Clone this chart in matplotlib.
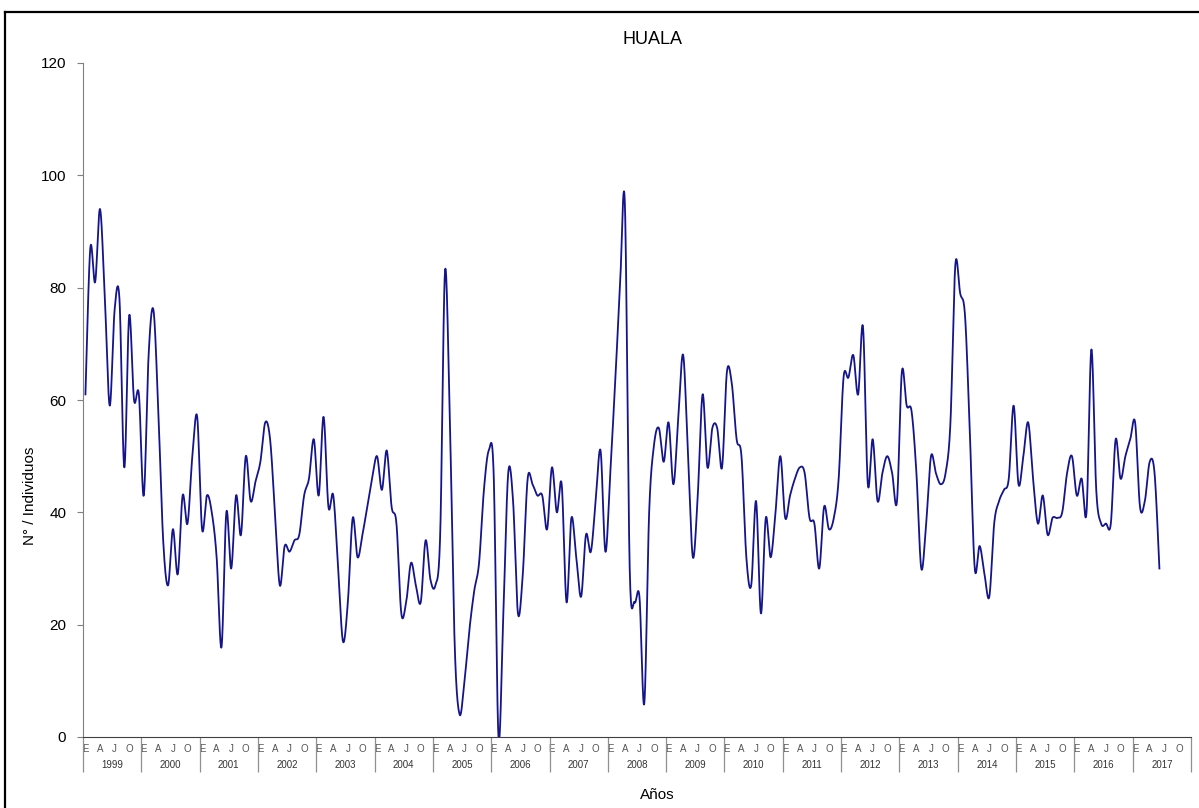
import matplotlib
matplotlib.use("Agg")
import matplotlib.pyplot as plt
import numpy as np
from matplotlib.lines import Line2D
from matplotlib.transforms import blended_transform_factory

plt.rcParams["font.family"] = ["Liberation Sans", "DejaVu Sans"]

# monthly counts, Jan 1999 .. Jun 2017
values = [
    61, 87, 81, 94, 78, 59, 76, 78, 48, 75, 60, 61,          # 1999
    43, 68, 76, 58, 35, 27, 37, 29, 43, 38, 50, 57,          # 2000
    37, 43, 40, 32, 16, 40, 30, 43, 36, 50, 42, 45.5,        # 2001
    49, 56, 53, 40, 27, 34, 33, 35, 36, 43, 46, 53,          # 2002
    43, 57, 41, 43, 30, 17, 24, 39, 32, 36, 41, 46,          # 2003
    50, 44, 51, 41, 38, 22, 24, 31, 27, 24, 35, 28,          # 2004
    27, 36, 83, 56, 16, 4, 10, 19, 26, 31, 44, 51,           # 2005
    47, 0, 22, 47, 42, 22, 29, 46, 45, 43, 43, 37,           # 2006
    48, 40, 45, 24, 39, 32, 25, 36, 33, 42, 51, 33,          # 2007
    47, 63, 80, 95, 30, 24, 25, 6, 40, 52, 55, 49,           # 2008
    56, 45, 57, 68, 50, 32, 43, 61, 48, 55, 55, 48,          # 2009
    65, 63, 53, 50, 32, 27, 42, 22, 39, 32, 40, 50,          # 2010
    39, 43, 46, 48, 47, 39, 38, 30, 41, 37, 39, 46,          # 2011
    64, 64, 68, 61, 73, 45, 53, 42, 47, 50, 47, 42,          # 2012
    65, 59, 58, 47, 30, 38, 50, 47, 45, 47, 56, 84,          # 2013
    79, 75, 54, 30, 34, 29, 25, 38, 42, 44, 46, 59,          # 2014
    45, 50, 56, 46, 38, 43, 36, 39, 39, 40, 47, 50,          # 2015
    43, 46, 40, 69, 44, 38, 38, 38, 53, 46, 50, 53,          # 2016
    56, 41, 42, 49, 47, 30,                                  # 2017
]
years = list(range(1999, 2018))
month_labels = ["E", "A", "J", "O"]
y_ticks = [0, 20, 40, 60, 80, 100, 120]


def smooth(y, n=24):
    """Catmull-Rom style smoothing like Excel's smoothed line."""
    y = np.asarray(y, dtype=float)
    x = np.arange(len(y), dtype=float)
    yp = np.concatenate([[y[0]], y, [y[-1]]])
    xp = np.concatenate([[x[0]], x, [x[-1]]])
    t = np.linspace(0, 1, n, endpoint=False)
    xs, ys = [], []
    for i in range(len(y) - 1):
        p0x, p1x, p2x, p3x = xp[i], xp[i + 1], xp[i + 2], xp[i + 3]
        p0y, p1y, p2y, p3y = yp[i], yp[i + 1], yp[i + 2], yp[i + 3]
        c1x, c1y = p1x + (p2x - p0x) / 6, p1y + (p2y - p0y) / 6
        c2x, c2y = p2x - (p3x - p1x) / 6, p2y - (p3y - p1y) / 6
        b0, b1, b2, b3 = (1 - t) ** 3, 3 * t * (1 - t) ** 2, 3 * t ** 2 * (1 - t), t ** 3
        xs.append(b0 * p1x + b1 * c1x + b2 * c2x + b3 * p2x)
        ys.append(b0 * p1y + b1 * c1y + b2 * c2y + b3 * p2y)
    xs.append([x[-1]])
    ys.append([y[-1]])
    return np.concatenate(xs), np.concatenate(ys)


fig = plt.figure(figsize=(11.99, 8.08), dpi=100)
ax = fig.add_axes([83 / 1199, 71 / 808, 1108 / 1199, 674 / 808])

sx, sy = smooth(values)
ax.plot(sx, sy, color="#14148c", lw=1.3, solid_joinstyle="round")

n_months = 12 * len(years)
ax.set_xlim(-0.5, n_months - 0.5)
ax.set_ylim(0, 120)

ax.set_yticks(y_ticks)
ax.tick_params(axis="y", direction="out", length=4, width=0.8, color="#808080",
               labelsize=11, pad=8)

# month letters as major ticks, year separators as minor ticks
ax.set_xticks(np.arange(0, n_months, 3))
ax.set_xticklabels(month_labels * len(years))
ax.set_xticks(np.arange(0, n_months + 1, 12) - 0.5, minor=True)
ax.tick_params(axis="x", which="major", length=0, labelsize=7, colors="#555555", pad=5)
ax.tick_params(axis="x", which="minor", length=25, width=0.9, color="#909090")

trans = blended_transform_factory(ax.transData, ax.transAxes)
for k, yr in enumerate(years):
    ax.text(12 * k + 5.5, -0.042, str(yr), transform=trans, ha="center", va="center",
            fontsize=7, color="#333333")

for side in ["top", "right"]:
    ax.spines[side].set_visible(False)
ax.spines["left"].set_color("#808080")
ax.spines["bottom"].set_color("#404040")

fig.text(652 / 1199, 1 - 40 / 808, "HUALA", ha="center", va="center", fontsize=13)
fig.text(657 / 1199, 1 - 795 / 808, "Años", ha="center", va="center", fontsize=11)
fig.text(30 / 1199, 1 - 496 / 808, "N° / Individuos", ha="center", va="center",
         rotation=90, fontsize=11)

# chart-area frame (only left and top edges fall inside the image)
fig.add_artist(Line2D([5 / 1199, 5 / 1199], [0, 1 - 12 / 808], transform=fig.transFigure,
                      color="black", lw=1.6))
fig.add_artist(Line2D([5 / 1199, 1], [1 - 12 / 808, 1 - 12 / 808], transform=fig.transFigure,
                      color="black", lw=1.6))

fig.savefig("out.png", dpi=100)
